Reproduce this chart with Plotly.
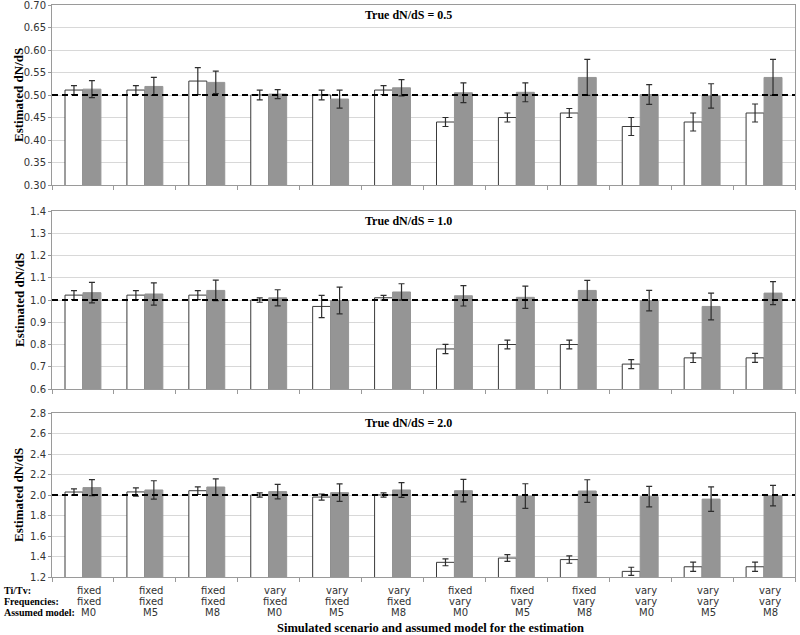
import plotly.graph_objects as go

W, H = 800, 635

# ---- data ----
titv = ["fixed", "fixed", "fixed", "vary", "vary", "vary",
        "fixed", "fixed", "fixed", "vary", "vary", "vary"]
freqs = ["fixed"] * 6 + ["vary"] * 6
models = ["M0", "M5", "M8"] * 4
categories = [f"{a}/{b}/{c}" for a, b, c in zip(titv, freqs, models)]

true_values = [0.5, 1.0, 2.0]
panel_titles = ["True dN/dS = 0.5", "True dN/dS = 1.0", "True dN/dS = 2.0"]

white_05 = [0.511, 0.511, 0.531, 0.500, 0.500, 0.511, 0.440, 0.450, 0.460, 0.430, 0.440, 0.460]
white_05_err = [0.010, 0.010, 0.030, 0.011, 0.011, 0.010, 0.010, 0.010, 0.010, 0.020, 0.020, 0.020]
gray_05 = [0.513, 0.519, 0.528, 0.502, 0.491, 0.516, 0.505, 0.506, 0.539, 0.501, 0.498, 0.539]
gray_05_err = [0.019, 0.020, 0.025, 0.010, 0.020, 0.018, 0.022, 0.021, 0.040, 0.022, 0.027, 0.040]

white_10 = [1.022, 1.022, 1.022, 1.000, 0.971, 1.010, 0.780, 0.800, 0.800, 0.712, 0.740, 0.740]
white_10_err = [0.020, 0.020, 0.020, 0.010, 0.050, 0.011, 0.021, 0.020, 0.020, 0.020, 0.021, 0.020]
gray_10 = [1.033, 1.027, 1.043, 1.010, 0.998, 1.036, 1.019, 1.012, 1.043, 0.997, 0.971, 1.031]
gray_10_err = [0.046, 0.050, 0.046, 0.036, 0.060, 0.037, 0.046, 0.050, 0.045, 0.046, 0.060, 0.052]

white_20 = [2.029, 2.030, 2.042, 2.000, 1.980, 2.000, 1.343, 1.385, 1.370, 1.255, 1.300, 1.300]
white_20_err = [0.030, 0.040, 0.037, 0.020, 0.030, 0.020, 0.033, 0.033, 0.036, 0.040, 0.045, 0.045]
gray_20 = [2.072, 2.049, 2.078, 2.033, 2.023, 2.049, 2.042, 1.990, 2.039, 1.984, 1.960, 1.993]
gray_20_err = [0.078, 0.090, 0.080, 0.070, 0.085, 0.072, 0.110, 0.120, 0.110, 0.100, 0.120, 0.100]

y_ranges = [[0.3, 0.7], [0.6, 1.4], [1.2, 2.8]]
y_tickvals = [
    [0.30, 0.35, 0.40, 0.45, 0.50, 0.55, 0.60, 0.65, 0.70],
    [0.6, 0.7, 0.8, 0.9, 1.0, 1.1, 1.2, 1.3, 1.4],
    [1.2, 1.4, 1.6, 1.8, 2.0, 2.2, 2.4, 2.6, 2.8],
]
y_formats = [".2f", ".1f", ".1f"]

row_headers = ["Ti/Tv:", "Frequencies:", "Assumed model:"]

# ---- styling / layout ----
WHITE_FILL = "#ffffff"
WHITE_LINE = "#3a3a3a"
GRAY_FILL = "#959595"
ERR_COLOR = "#2e2e2e"
GRID = "#d8d8d8"
AXLINE = "#9a9a9a"
TICKFONT = dict(family="DejaVu Sans", size=10, color="#333333")
SERIF = "Liberation Serif"


def px_y(p):
    return (H - p) / H


x_domain = [52 / W, 795 / W]
panel_px = [(5, 185), (211, 389), (413, 577)]

panels = [
    (white_05, white_05_err, gray_05, gray_05_err),
    (white_10, white_10_err, gray_10, gray_10_err),
    (white_20, white_20_err, gray_20, gray_20_err),
]

fig = go.Figure()
layout = dict(
    width=W, height=H,
    margin=dict(l=0, r=0, t=0, b=0),
    paper_bgcolor="white", plot_bgcolor="white",
    barmode="group", bargap=0.42, bargroupgap=0.0,
    showlegend=False,
)
shapes, annotations = [], []

for i, (w, we, g, ge) in enumerate(panels):
    n = "" if i == 0 else str(i + 1)
    xa, ya = "x" + n, "y" + n
    fig.add_trace(go.Bar(
        x=categories, y=w, xaxis=xa, yaxis=ya,
        marker=dict(color=WHITE_FILL, line=dict(color=WHITE_LINE, width=1)),
        error_y=dict(type="data", array=we, color=ERR_COLOR, thickness=1.2, width=3),
        offsetgroup="a",
    ))
    fig.add_trace(go.Bar(
        x=categories, y=g, xaxis=xa, yaxis=ya,
        marker=dict(color=GRAY_FILL, line=dict(color=GRAY_FILL, width=1)),
        error_y=dict(type="data", array=ge, color=ERR_COLOR, thickness=1.2, width=3),
        offsetgroup="b",
    ))
    top, bot = panel_px[i]
    layout["xaxis" + n] = dict(
        domain=x_domain, anchor=ya, type="category",
        categoryorder="array", categoryarray=categories,
        showticklabels=False, ticks="outside", ticklen=4, tickcolor=AXLINE,
        tickson="boundaries", showgrid=False,
        showline=True, linecolor=AXLINE, linewidth=1, mirror=True,
        zeroline=False, fixedrange=True,
    )
    rng = y_ranges[i]
    layout["yaxis" + n] = dict(
        domain=[px_y(bot), px_y(top)], anchor=xa,
        range=[rng[0], rng[1] + 1e-9],
        tickmode="array", tickvals=y_tickvals[i],
        tickformat=y_formats[i], tickfont=TICKFONT,
        ticklabeloverflow="allow",
        ticks="outside", ticklen=3, tickcolor=AXLINE,
        showgrid=True, gridcolor=GRID, gridwidth=1,
        showline=True, linecolor=AXLINE, linewidth=1, mirror=True,
        zeroline=False, automargin=False,
    )
    shapes.append(dict(
        type="line", xref=xa + " domain", yref=ya,
        x0=0, x1=1, y0=true_values[i], y1=true_values[i],
        line=dict(color="black", width=2, dash="6px,4px"), layer="above",
    ))
    annotations.append(dict(
        text="<b>" + panel_titles[i] + "</b>", xref="paper", yref="paper",
        x=408 / W, y=px_y(top + 10), showarrow=False,
        font=dict(family=SERIF, size=12, color="black"),
        xanchor="center", yanchor="middle",
    ))
    annotations.append(dict(
        text="<b>Estimated dN/dS</b>", xref="paper", yref="paper",
        x=19 / W, y=px_y((top + bot) / 2), textangle=-90, showarrow=False,
        font=dict(family=SERIF, size=13, color="black"),
        xanchor="center", yanchor="middle",
    ))

# bottom category labels (three rows)
row_y = [590, 601, 612]
for r, vals in enumerate([titv, freqs, models]):
    annotations.append(dict(
        text="<b>" + row_headers[r] + "</b>", xref="paper", yref="paper",
        x=2 / W, y=px_y(row_y[r]), showarrow=False,
        font=dict(family=SERIF, size=10, color="black"),
        xanchor="left", yanchor="middle",
    ))
    for c, v in zip(categories, vals):
        annotations.append(dict(
            text=v, xref="x3", yref="paper", x=c, y=px_y(row_y[r]),
            xshift=6, showarrow=False, font=TICKFONT,
            xanchor="center", yanchor="middle",
        ))

annotations.append(dict(
    text="<b>Simulated scenario and assumed model for the estimation</b>",
    xref="paper", yref="paper", x=431 / W, y=px_y(628), showarrow=False,
    font=dict(family=SERIF, size=12.5, color="black"),
    xanchor="center", yanchor="middle",
))

layout["shapes"] = shapes
layout["annotations"] = annotations
fig.update_layout(**layout)

fig.write_html(
    "out.html",
    config={"displayModeBar": False},
    post_script="document.body.style.margin='0';document.body.style.padding='0';",
)
